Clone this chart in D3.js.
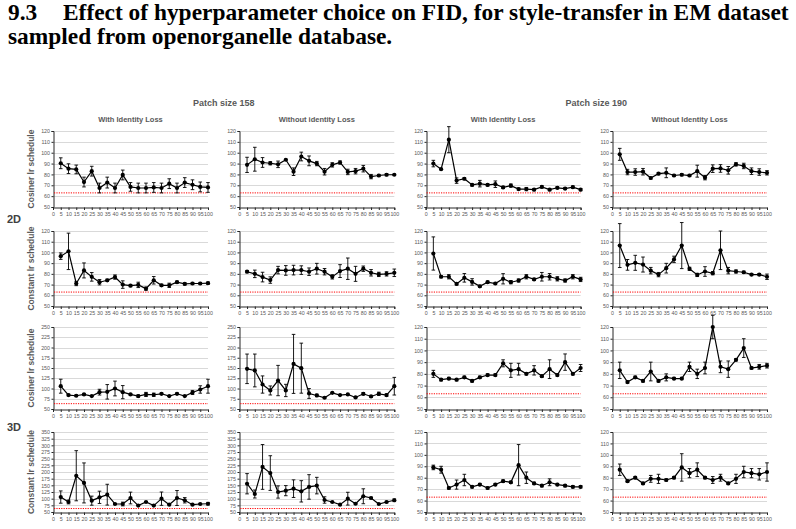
<!DOCTYPE html>
<html>
<head>
<meta charset="utf-8">
<script src="https://cdn.jsdelivr.net/npm/d3@7"></script>
<style>
body { margin: 0; background: #fff; }
svg { display: block; }
</style>
</head>
<body>
<svg id="chart" width="796" height="529"></svg>
<script>
// x positions of the runs and the axis ticks
const steps = [5, 10, 15, 20, 25, 30, 35, 40, 45, 50, 55, 60, 65, 70, 75, 80, 85, 90, 95, 100];
const xTicks = [0, 5, 10, 15, 20, 25, 30, 35, 40, 45, 50, 55, 60, 65, 70, 75, 80, 85, 90, 95, 100];
const yTicksNarrow = [50, 60, 70, 80, 90, 100, 110, 120];
const yTicks3dCos = [50, 75, 100, 125, 150, 175, 200, 225, 250];
const yTicks3dConst = [50, 75, 100, 125, 150, 175, 200, 225, 250, 275, 300, 325, 350];
const baselineFid = 63;

// 2D, cosine lr schedule
const cos2dId158 = [90.3, 85.3, 84.6, 73, 83, 67.5, 72.5, 67.5, 79.5, 68.5, 67.5, 67.5, 68, 67.5, 71.5, 67.5, 72.5, 70.5, 68.5, 68];
const cos2dId158Err = [5, 4.5, 4, 4.5, 4.5, 4.5, 5, 4.5, 4.5, 4, 4.5, 4.5, 4.5, 4.5, 4.5, 4.5, 4.5, 4.5, 4.5, 4.5];
const cos2dNoId158 = [88.8, 94, 91, 90.3, 89.3, 93.5, 82.5, 96.5, 92.5, 90, 82.5, 88.8, 91, 82.3, 83, 85.3, 78, 79, 79.7, 79.7];
const cos2dNoId158Err = [7, 11, 4.5, 1.5, 3, 0.5, 3.5, 4, 4.5, 2, 3, 2, 1.5, 2.5, 2.5, 3, 2, 1, 1, 0.5];
const cos2dId190 = [90, 84.8, 112, 74.3, 76, 70.3, 71.5, 70.3, 71, 68, 69.7, 66.5, 66.5, 66, 68.5, 66, 67.7, 67, 68.3, 66];
const cos2dId190Err = [3, 0.5, 12, 2.5, 1, 1, 3, 1, 3, 1, 1.5, 1, 1.5, 1, 1, 1, 1, 1, 1, 1];
const cos2dNoId190 = [98.5, 82.2, 82.2, 82.5, 76.7, 80.7, 81.5, 79, 79.7, 79, 83, 77, 85.3, 85.5, 83.8, 89.3, 87.8, 83, 82.2, 81.5];
const cos2dNoId190Err = [5.5, 2.5, 3, 3, 1, 1, 4.5, 1, 1, 1, 5.5, 2, 3.5, 3.5, 3.5, 1.5, 2.5, 3, 3, 2];

// 2D, constant lr schedule
const const2dId158 = [96.5, 101, 71, 83.2, 77.2, 72.2, 74, 77, 70, 69, 69.7, 66.2, 74, 69.3, 69.3, 72.2, 70.6, 71, 71, 71.3];
const const2dId158Err = [3, 17, 2, 7, 4, 2.5, 1, 2, 3.5, 1, 2.5, 1.5, 3.5, 1, 2, 1, 1, 1, 1, 1];
const const2dNoId158 = [82, 80, 77, 74.2, 83.5, 83.2, 83.5, 83.5, 82, 84.8, 82, 77.2, 82.6, 84.8, 80, 84.8, 81, 79.5, 80, 81];
const const2dNoId158Err = [1, 3.5, 4.5, 3, 3.5, 4.5, 4.5, 4, 3.5, 5, 3, 2, 6, 10, 7, 2.5, 3, 2, 2, 3.5];
const const2dId190 = [99, 77.3, 77.3, 70.6, 76.3, 72.5, 68.4, 72.2, 71, 75.4, 72.2, 73.8, 77.3, 74.8, 77.3, 77.3, 75.4, 73.8, 77.3, 74.8];
const const2dId190Err = [15.5, 1, 2, 1, 4, 3, 1, 1, 1, 4.8, 1.5, 1.5, 2, 1, 4, 3, 2, 1.5, 2, 2];
const const2dNoId190 = [106.4, 88.4, 90.3, 88.7, 83, 79.3, 85.3, 93.5, 106.4, 84.7, 79, 82.2, 80.6, 102, 83, 82.2, 81.5, 79.3, 79.3, 77.3];
const const2dNoId190Err = [20.5, 5, 7, 7, 3, 2, 4.5, 3, 21.5, 1.5, 1.5, 4.5, 1.5, 18, 3, 1.5, 1, 1, 1, 2.5];

// 3D, cosine lr schedule
const cos3dId158 = [105.6, 83.9, 82.3, 85.5, 81.5, 91.1, 91.9, 100, 91.1, 85.5, 81.5, 85.5, 84.7, 87.1, 81.5, 87.1, 81.5, 90.3, 97.6, 105.6];
const cos3dId158Err = [17, 2, 2, 2, 1, 7, 17.7, 18, 16, 2, 3, 5, 4, 2, 1, 2, 1, 5, 9, 17];
const cos3dNoId158 = [148, 144, 109.7, 95.2, 119.4, 95.2, 160, 149.6, 87.9, 83, 77.4, 89.5, 83.9, 85.5, 78.2, 87.1, 80.6, 87.1, 83.9, 105.6];
const cos3dNoId158Err = [36, 40, 21, 11, 37, 15, 72, 61, 12, 3, 1.5, 1, 1, 1, 1, 3, 2, 4, 3, 21.5];
const cos3dId190 = [80, 75, 76, 75, 77, 74, 77, 79, 79, 89, 83, 84, 80, 83, 78, 84, 79, 90, 80, 85];
const cos3dId190Err = [3, 1, 1, 1, 1, 1, 1, 1, 1, 3, 6, 5, 1, 4, 1, 8, 1, 7, 1, 3];
const cos3dNoId190 = [83, 73, 77, 74, 82, 74, 77, 76, 76, 86, 80, 85, 120, 86, 84, 92, 102, 85, 86, 87];
const cos3dNoId190Err = [7, 1, 1, 1, 8, 1, 3, 1, 1, 4, 4, 5, 10, 5, 7, 1, 8, 1, 2, 2];

// 3D, constant lr schedule
const const3dId158 = [106, 87.5, 186, 159, 92.5, 105, 115, 80, 80, 102.5, 74, 87.5, 74, 100, 77.5, 102.5, 94, 77.5, 80, 81];
const const3dId158Err = [23, 7, 94, 75, 17, 23, 39, 2, 7, 22, 1, 2, 1, 25, 1, 28, 10, 1, 2, 5];
const const3dNoId158 = [156, 117.5, 219, 196, 125, 130, 137.5, 127.5, 144, 149, 95, 87.5, 77.5, 100, 81, 109, 102.5, 80, 87.5, 94];
const const3dNoId158Err = [38, 15, 84, 65, 23, 19, 33, 40, 46, 31, 12, 2, 1, 24, 2, 28, 3, 2, 3, 5];
const const3dId190 = [89, 87, 71, 74, 78, 72, 74, 71, 74, 77, 76, 91, 80, 75, 73, 76, 74, 73, 72, 72];
const const3dId190Err = [2, 3, 1, 4, 5, 1, 1, 1, 1, 1, 1, 18, 5, 1, 1, 3, 1, 1, 1, 1];
const const3dNoId190 = [87, 77, 80, 75, 79, 79, 78, 80, 89, 84, 87, 80, 78, 80, 75, 79, 85, 84, 83, 85];
const const3dNoId190Err = [5, 1, 1, 1, 3, 4, 1, 1, 12, 4, 6, 1, 3, 3, 1, 4, 5, 4, 5, 8];

const rowLabels = ["Cosiner lr schedule", "Constant lr schedule", "Cosiner lr schedule", "Constant lr schedule"];
const colLabels = ["With Identity Loss", "Without identity Loss", "With Identity Loss", "Without Identity Loss"];
const patchLabels = ["Patch size 158", "Patch size 190"];

const panels = [
    { row: 0, col: 0, v: cos2dId158, e: cos2dId158Err, ticks: yTicksNarrow },
    { row: 0, col: 1, v: cos2dNoId158, e: cos2dNoId158Err, ticks: yTicksNarrow },
    { row: 0, col: 2, v: cos2dId190, e: cos2dId190Err, ticks: yTicksNarrow },
    { row: 0, col: 3, v: cos2dNoId190, e: cos2dNoId190Err, ticks: yTicksNarrow },
    { row: 1, col: 0, v: const2dId158, e: const2dId158Err, ticks: yTicksNarrow },
    { row: 1, col: 1, v: const2dNoId158, e: const2dNoId158Err, ticks: yTicksNarrow },
    { row: 1, col: 2, v: const2dId190, e: const2dId190Err, ticks: yTicksNarrow },
    { row: 1, col: 3, v: const2dNoId190, e: const2dNoId190Err, ticks: yTicksNarrow },
    { row: 2, col: 0, v: cos3dId158, e: cos3dId158Err, ticks: yTicks3dCos },
    { row: 2, col: 1, v: cos3dNoId158, e: cos3dNoId158Err, ticks: yTicks3dCos },
    { row: 2, col: 2, v: cos3dId190, e: cos3dId190Err, ticks: yTicksNarrow },
    { row: 2, col: 3, v: cos3dNoId190, e: cos3dNoId190Err, ticks: yTicksNarrow },
    { row: 3, col: 0, v: const3dId158, e: const3dId158Err, ticks: yTicks3dConst },
    { row: 3, col: 1, v: const3dNoId158, e: const3dNoId158Err, ticks: yTicks3dConst },
    { row: 3, col: 2, v: const3dId190, e: const3dId190Err, ticks: yTicksNarrow },
    { row: 3, col: 3, v: const3dNoId190, e: const3dNoId190Err, ticks: yTicksNarrow }
];

// Layout of the grid of small charts
const colLeft = [53, 239.3, 425.6, 612];
const plotWidth = 155;
const rowTop = [131, 231, 327, 432];
const rowBottom = [207, 306, 409, 512];
const labelGray = "#595959";
const sans = "'Liberation Sans', Arial, sans-serif";

const svg = d3.select("#chart");

// Title, two lines
const title = svg.append("g")
    .attr("font-family", "'Liberation Serif', 'Times New Roman', serif")
    .attr("font-weight", "bold")
    .attr("font-size", 23.4)
    .attr("fill", "#000");
title.append("text").attr("x", 8).attr("y", 20).text("9.3");
title.append("text").attr("x", 63).attr("y", 20).text("Effect of hyperparameter choice on FID, for style-transfer in EM dataset");
title.append("text").attr("x", 8).attr("y", 44).text("sampled from openorganelle database.");

// Group headers
patchLabels.forEach((label, i) => {
    svg.append("text")
        .attr("x", (colLeft[i * 2] + colLeft[i * 2 + 1] + plotWidth) / 2)
        .attr("y", 106)
        .attr("text-anchor", "middle")
        .attr("font-family", sans)
        .attr("font-weight", "bold")
        .attr("font-size", 9)
        .attr("fill", labelGray)
        .text(label);
});

colLabels.forEach((label, i) => {
    svg.append("text")
        .attr("x", colLeft[i] + plotWidth / 2)
        .attr("y", 122)
        .attr("text-anchor", "middle")
        .attr("font-family", sans)
        .attr("font-weight", "bold")
        .attr("font-size", 7.5)
        .attr("fill", labelGray)
        .text(label);
});

// Row titles (rotated) and the 2D / 3D markers
rowLabels.forEach((label, r) => {
    const cy = (rowTop[r] + rowBottom[r]) / 2;
    svg.append("text")
        .attr("transform", `translate(34,${cy}) rotate(-90)`)
        .attr("text-anchor", "middle")
        .attr("font-family", sans)
        .attr("font-weight", "bold")
        .attr("font-size", 8.5)
        .attr("fill", labelGray)
        .text(label);
});

[["2D", 223], ["3D", 431]].forEach(([label, y]) => {
    svg.append("text")
        .attr("x", 7)
        .attr("y", y)
        .attr("font-family", sans)
        .attr("font-weight", "bold")
        .attr("font-size", 11)
        .attr("fill", "#404040")
        .text(label);
});

panels.forEach(drawPanel);

function drawPanel(p) {
    const x0 = colLeft[p.col];
    const top = rowTop[p.row];
    const bottom = rowBottom[p.row];

    const x = d3.scaleLinear().domain([0, 100]).range([x0, x0 + plotWidth]);
    const y = d3.scaleLinear().domain([d3.min(p.ticks), d3.max(p.ticks)]).range([bottom, top]);

    const g = svg.append("g");

    // Horizontal gridlines
    g.selectAll("line.grid")
        .data(p.ticks.slice(1))
        .enter()
        .append("line")
        .attr("x1", x0)
        .attr("x2", x0 + plotWidth)
        .attr("y1", d => Math.round(y(d)) + 0.5)
        .attr("y2", d => Math.round(y(d)) + 0.5)
        .attr("stroke", "#d9d9d9")
        .attr("stroke-width", 1);

    // Axes
    const yAxis = d3.axisLeft(y)
        .tickValues(p.ticks)
        .tickSize(2)
        .tickPadding(1.5);
    const yg = g.append("g")
        .attr("transform", `translate(${Math.round(x0) + 0.5},0)`)
        .call(yAxis);
    yg.select(".domain").attr("stroke", "#262626");
    yg.selectAll(".tick line").attr("stroke", "#262626");
    yg.selectAll(".tick text")
        .attr("font-family", sans)
        .attr("font-size", 5.3)
        .attr("fill", labelGray);

    const xAxis = d3.axisBottom(x)
        .tickValues(xTicks)
        .tickSize(2.5)
        .tickPadding(2);
    const xg = g.append("g")
        .attr("transform", `translate(0,${Math.round(bottom) + 0.5})`)
        .call(xAxis);
    xg.select(".domain").attr("stroke", "#262626");
    xg.selectAll(".tick line").attr("stroke", "#262626");
    xg.selectAll(".tick text")
        .attr("font-family", sans)
        .attr("font-size", 5.3)
        .attr("fill", labelGray);

    // Reference FID level
    g.append("line")
        .attr("x1", x0 + 1)
        .attr("x2", x0 + plotWidth)
        .attr("y1", y(baselineFid))
        .attr("y2", y(baselineFid))
        .attr("stroke", "#ff0000")
        .attr("stroke-width", 1)
        .attr("stroke-dasharray", "1.2,1.2");

    const data = steps.map((s, i) => ({ s, v: p.v[i], e: p.e[i] }));

    // Error bars
    const bars = g.selectAll("g.err")
        .data(data)
        .enter()
        .append("g")
        .attr("stroke", "#000")
        .attr("stroke-width", 0.9);
    bars.append("line")
        .attr("x1", d => x(d.s)).attr("x2", d => x(d.s))
        .attr("y1", d => y(d.v - d.e)).attr("y2", d => y(d.v + d.e));
    bars.append("line")
        .attr("x1", d => x(d.s) - 1.8).attr("x2", d => x(d.s) + 1.8)
        .attr("y1", d => y(d.v + d.e)).attr("y2", d => y(d.v + d.e));
    bars.append("line")
        .attr("x1", d => x(d.s) - 1.8).attr("x2", d => x(d.s) + 1.8)
        .attr("y1", d => y(d.v - d.e)).attr("y2", d => y(d.v - d.e));

    // Mean line and markers
    const line = d3.line().x(d => x(d.s)).y(d => y(d.v));
    g.append("path")
        .datum(data)
        .attr("d", line)
        .attr("fill", "none")
        .attr("stroke", "#000")
        .attr("stroke-width", 1.2);

    g.selectAll("circle")
        .data(data)
        .enter()
        .append("circle")
        .attr("cx", d => x(d.s))
        .attr("cy", d => y(d.v))
        .attr("r", 2.1)
        .attr("fill", "#000");
}
</script>
</body>
</html>
